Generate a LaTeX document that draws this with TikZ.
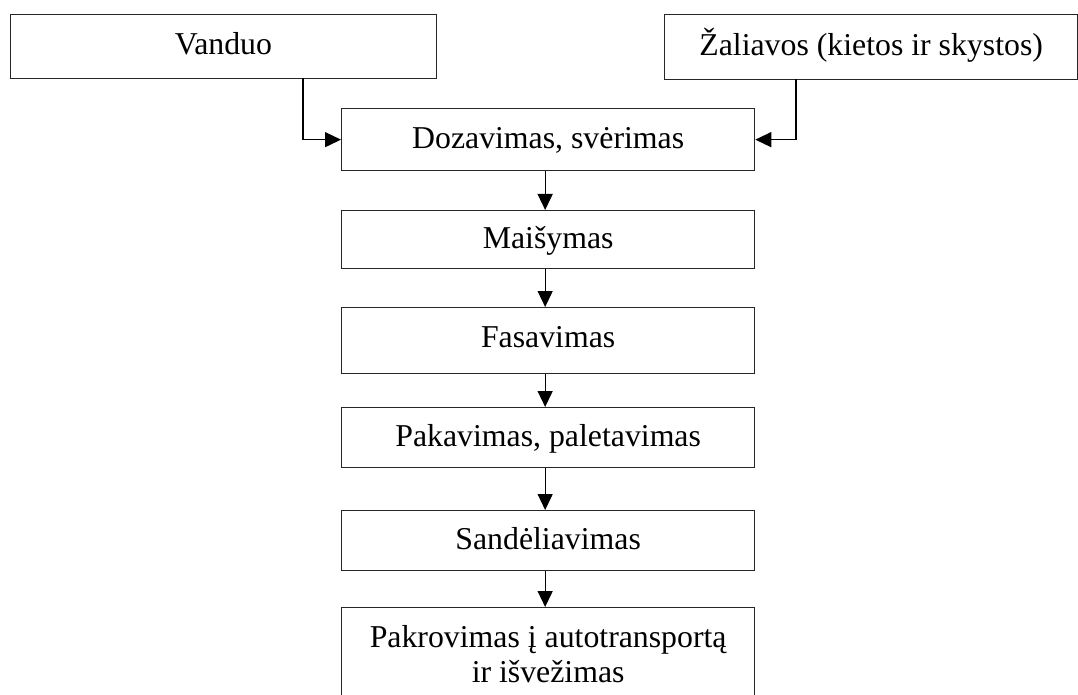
\documentclass[tikz,border=0pt]{standalone}
\usepackage{fontspec}
\setmainfont{Liberation Serif}
\usetikzlibrary{arrows.meta}
\tikzset{
  box/.style={draw=black!85, line width=1.3pt, inner sep=0pt, anchor=north west},
  conn/.style={draw=black, line width=1.3pt, -{Triangle[length=16pt,width=15pt]}},
  lbl/.style={inner sep=0pt, align=center, font=\fontsize{31.8}{35}\selectfont},
  onel/.style={lbl, text height=23pt, text depth=6pt}
}
\begin{document}
\begin{tikzpicture}[x=1pt,y=1pt]
\useasboundingbox (0,0) rectangle (1078,-695);
\fill[white] (0,0) rectangle (1078,-695);
% top boxes
\node[box, minimum width=426.5pt, minimum height=64pt] (van) at (9.5,-14) {};
\node[onel] (vantext) at ([yshift=1pt]van.center) {Vanduo};
\node[box, minimum width=413pt, minimum height=65pt] (zal) at (664,-14) {};
\node[onel] (zaltext) at (zal.center) {Žaliavos (kietos ir skystos)};
% chain
\node[box, minimum width=413pt, minimum height=62pt] (doz) at (341,-108) {};
\node[onel] (doztext) at (doz.center) {Dozavimas, svėrimas};
\node[box, minimum width=413pt, minimum height=58pt] (mai) at (341,-210) {};
\node[onel] (maitext) at (mai.center) {Maišymas};
\node[box, minimum width=413pt, minimum height=66pt] (fas) at (341,-307) {};
\node[onel] (fastext) at ([yshift=2pt]fas.center) {Fasavimas};
\node[box, minimum width=413pt, minimum height=60pt] (pak) at (341,-407) {};
\node[onel] (paktext) at (pak.center) {Pakavimas, paletavimas};
\node[box, minimum width=413pt, minimum height=60pt] (san) at (341,-510) {};
\node[onel] (santext) at (san.center) {Sandėliavimas};
\node[box, minimum width=413pt, minimum height=120pt] (kro) at (341,-607) {};
\node[lbl, anchor=north] (krotext) at ([yshift=-18pt]kro.north) {Pakrovimas į autotransportą\\ir išvežimas};
% connectors
\coordinate (vanout) at (303,-78);
\coordinate (zalout) at (796,-79);
\draw[conn] (vanout) |- (doz.west);
\draw[conn] (zalout) |- (doz.east);
\draw[conn] ([xshift=-3pt]doz.south) -- ([xshift=-3pt]mai.north);
\draw[conn] ([xshift=-3pt]mai.south) -- ([xshift=-3pt]fas.north);
\draw[conn] ([xshift=-3pt]fas.south) -- ([xshift=-3pt]pak.north);
\draw[conn] ([xshift=-3pt]pak.south) -- ([xshift=-3pt]san.north);
\draw[conn] ([xshift=-3pt]san.south) -- ([xshift=-3pt]kro.north);
\end{tikzpicture}
\end{document}
